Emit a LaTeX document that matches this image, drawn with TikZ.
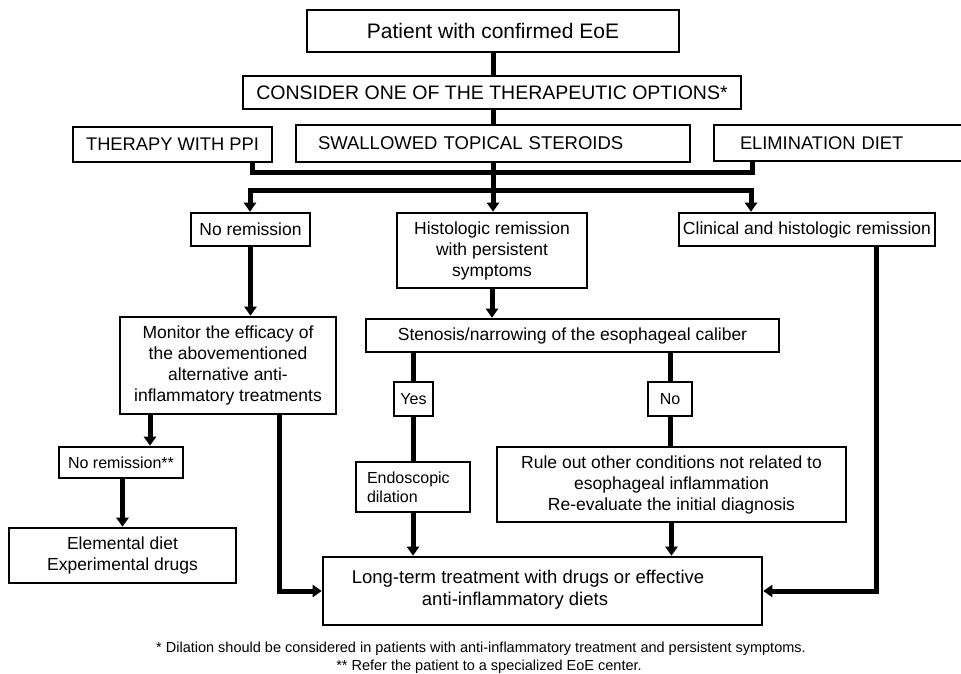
\documentclass[tikz,border=0pt]{standalone}
\usepackage{fontspec}
\setmainfont{Liberation Sans}
\usetikzlibrary{arrows.meta}
\newcommand\fsz[2]{\fontsize{#1pt}{#2pt}\selectfont}
\tikzset{
  bx/.style={draw, line width=2.6pt, inner sep=0pt, align=center, font=\fsz{17.5}{21}},
  conn/.style={line width=5pt},
  arr/.style={conn, -{Triangle[width=12pt,length=9pt]}},
  darr/.style={conn, {Triangle[width=12pt,length=9pt]}-{Triangle[width=12pt,length=9pt]}},
}
\begin{document}
\begin{tikzpicture}[x=1pt,y=-1pt]
\useasboundingbox (0,0) rectangle (961,673);

\node[bx, font=\fsz{21}{25}, minimum width=372pt, minimum height=42pt] (b1) at (493,31) {Patient with confirmed EoE};
\node[bx, font=\fsz{19.5}{23}, minimum width=498pt, minimum height=33pt] (b2) at (492,92.5) {CONSIDER ONE OF THE THERAPEUTIC OPTIONS*};
\node[bx, font=\fsz{18.3}{22}, minimum width=199pt, minimum height=35pt] (ppi) at (172.5,144.5) {THERAPY WITH PPI};
\node[bx, font=\fsz{18.5}{22}, text width=350pt, inner xsep=22pt, align=left, minimum height=37pt] (ster) at (493,143.5) {SWALLOWED TOPICAL STEROIDS};
\node[bx, font=\fsz{18.3}{22}, text width=196pt, inner xsep=26pt, align=left, minimum height=36pt] (elim) at (838,143) {ELIMINATION DIET};

\node[bx, minimum width=119pt, minimum height=33pt] (norem) at (250.5,229.5) {No remission};
\node[bx, minimum width=190pt, minimum height=75pt] (hist) at (492,250.5) {Histologic remission\\with persistent\\symptoms};
\node[bx, minimum width=256pt, minimum height=33pt] (clin) at (807,229.5) {Clinical and histologic remission};
\node[bx, minimum width=216pt, minimum height=97pt] (mon) at (228,365.5) {Monitor the efficacy of\\the abovementioned\\alternative anti-\\inflammatory treatments};
\node[bx, minimum width=413pt, minimum height=33pt] (sten) at (572.5,335.5) {Stenosis/narrowing of the esophageal caliber};
\node[bx, font=\fsz{16}{19}, minimum width=39pt, minimum height=34pt] (yes) at (413.5,399) {Yes};
\node[bx, font=\fsz{16}{19}, minimum width=44pt, minimum height=34pt] (no) at (670,399) {No};
\node[bx, font=\fsz{16}{19}, minimum width=124pt, minimum height=31pt] (norem2) at (121,462.5) {No remission**};
\node[bx, font=\fsz{16}{19}, text width=92pt, inner xsep=11pt, align=left, minimum height=50pt] (endo) at (413,487) {Endoscopic\\dilation};
\node[bx, minimum width=349pt, minimum height=75pt] (rule) at (671.5,484.5) {Rule out other conditions not related to\\esophageal inflammation\\Re-evaluate the initial diagnosis};
\node[bx, minimum width=227pt, minimum height=55pt] (elem) at (122.5,555.5) {Elemental diet\\Experimental drugs};
\node[bx, minimum width=439pt, minimum height=68pt] (lt) at (542.5,591) {};
\node[font=\fsz{18.5}{22}, align=center, inner sep=0pt] (ltt) at (528,590) {Long-term treatment with drugs or effective\\anti-inflammatory diets\hspace*{26pt}};

\node[font=\fsz{14.5}{17}, inner sep=0pt] (fn1) at (481,649) {* Dilation should be considered in patients with anti-inflammatory treatment and persistent symptoms.};
\node[font=\fsz{14.5}{17}, inner sep=0pt] (fn2) at (489,667) {** Refer the patient to a specialized EoE center.};

% connectors
\draw[conn] (b1.south) -- (b1.south |- b2.north);
\draw[conn] (b2.south -| ster.north) -- (ster.north);
\coordinate (j1) at (252,172);
\coordinate (j2) at (752,172);
\draw[conn] (ppi.south -| j1) -- (j1) -- (j2) -- (elim.south -| j2);
\draw[arr] (ster.south) -- (ster.south |- hist.north);
\coordinate (k1) at (250,190);
\coordinate (k2) at (751,190);
\draw[darr] (k1 |- norem.north) -- (k1) -- (k2) -- (k2 |- clin.north);
\draw[arr] (norem.south) -- (norem.south |- mon.north);
\draw[arr] (hist.south) -- (hist.south |- sten.north);
\coordinate (cr) at (876,591);
\draw[arr] (clin.south -| cr) -- (cr) -- (lt.east);
\coordinate (m1) at (150,430);
\draw[arr] (mon.south -| m1) -- (norem2.north -| m1);
\coordinate (ml) at (279,591);
\draw[arr] (mon.south -| ml) -- (ml) -- (lt.west);
\draw[arr] (norem2.south -| elem.north) -- (elem.north);
\draw[conn] (sten.south -| yes.north) -- (yes.north);
\draw[conn] (yes.south) -- (yes.south |- endo.north);
\draw[arr] (endo.south) -- (endo.south |- lt.north);
\draw[conn] (sten.south -| no.north) -- (no.north);
\draw[conn] (no.south) -- (no.south |- rule.north);
\draw[arr] (rule.south) -- (rule.south |- lt.north);
\end{tikzpicture}
\end{document}
